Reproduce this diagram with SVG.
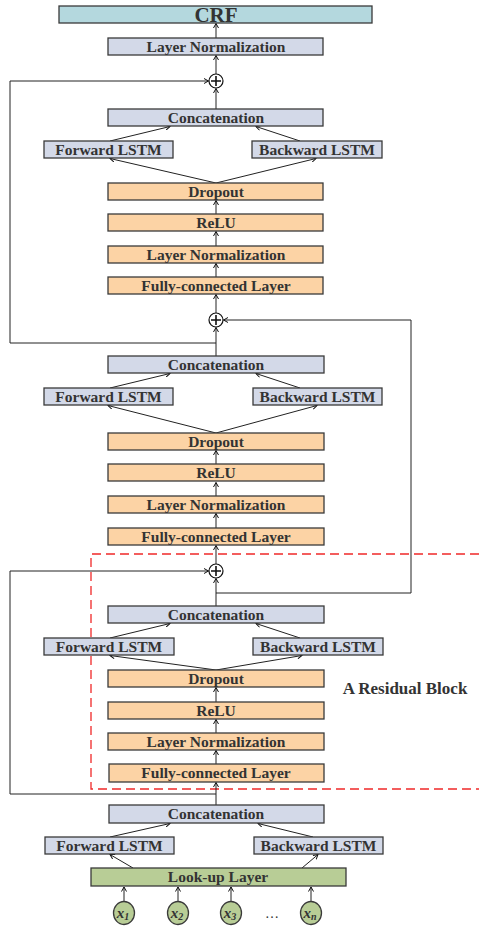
<svg xmlns="http://www.w3.org/2000/svg" width="479" height="927" viewBox="0 0 479 927">
<style>
.box{stroke:#3a3a3a;stroke-width:1.3}
.blue{fill:#d3d9e8}
.orange{fill:#fcd3a5}
.green{fill:#b8cd96}
.crf{fill:#b4d8de}
.t{font-family:"Liberation Serif","Times New Roman",serif;font-weight:bold;font-size:15.5px;fill:#333;text-anchor:middle}
.c{stroke:#222;stroke-width:1;fill:none;marker-end:url(#ah)}
.pc{fill:#fff;stroke:#111;stroke-width:1.2}
.pp{stroke:#111;stroke-width:1.6}
.xi{font-family:"Liberation Serif","Times New Roman",serif;font-weight:bold;font-style:italic;font-size:15px;fill:#333;text-anchor:middle}
</style>
<defs>
<marker id="ah" markerWidth="6" markerHeight="6" refX="5" refY="3" orient="auto" markerUnits="userSpaceOnUse">
<path d="M0.5,0.5 L5,3 L0.5,5.5" fill="none" stroke="#111" stroke-width="1"/>
</marker>
</defs>
<rect width="479" height="927" fill="#fff"/>

<g id="residual-block">
<path d="M479,554 H91 V789 H479" fill="none" stroke="#f02828" stroke-width="1.3" stroke-dasharray="9,5"/>
<text x="405" y="694" class="t" style="font-size:17px">A Residual Block</text>
</g>

<g id="connectors">
<line class="c" x1="216" y1="38" x2="216" y2="23.5"/>
<line class="c" x1="216" y1="74" x2="216" y2="55.5"/>
<line class="c" x1="216" y1="109" x2="216" y2="88.5"/>
<line class="c" x1="110" y1="141" x2="170" y2="126.5"/>
<line class="c" x1="300" y1="141" x2="256" y2="126.5"/>
<line class="c" x1="216" y1="183" x2="110" y2="158.5"/>
<line class="c" x1="216" y1="183" x2="316" y2="158.5"/>
<line class="c" x1="216" y1="214" x2="216" y2="200.5"/>
<line class="c" x1="216" y1="246" x2="216" y2="231.5"/>
<line class="c" x1="216" y1="277" x2="216" y2="263.5"/>
<line class="c" x1="216" y1="313" x2="216" y2="294.5"/>
<line class="c" x1="216" y1="356" x2="216" y2="327.5"/>
<polyline class="c" points="216,343 10,343 10,81 208.5,81"/>
<line class="c" x1="110" y1="388" x2="170" y2="373.5"/>
<line class="c" x1="300" y1="388" x2="256" y2="373.5"/>
<line class="c" x1="216" y1="433" x2="108" y2="405.5"/>
<line class="c" x1="216" y1="433" x2="317" y2="405.5"/>
<line class="c" x1="216" y1="464" x2="216" y2="450.5"/>
<line class="c" x1="216" y1="496" x2="216" y2="482.5"/>
<line class="c" x1="216" y1="528" x2="216" y2="513.5"/>
<line class="c" x1="216" y1="564" x2="216" y2="545.5"/>
<line class="c" x1="216" y1="606" x2="216" y2="578.5"/>
<polyline class="c" points="216,593 411,593 411,320 223.5,320"/>
<line class="c" x1="110" y1="638" x2="170" y2="623.5"/>
<line class="c" x1="300" y1="638" x2="256" y2="623.5"/>
<line class="c" x1="216" y1="670" x2="110" y2="655.5"/>
<line class="c" x1="216" y1="670" x2="302" y2="655.5"/>
<line class="c" x1="216" y1="702" x2="216" y2="687.5"/>
<line class="c" x1="216" y1="733" x2="216" y2="719.5"/>
<line class="c" x1="216" y1="764" x2="216" y2="750.5"/>
<line class="c" x1="216" y1="805" x2="216" y2="782.5"/>
<polyline class="c" points="216,794 10,794 10,571 208.5,571"/>
<line class="c" x1="110" y1="837" x2="170" y2="823.5"/>
<line class="c" x1="313" y1="837" x2="258" y2="823.5"/>
<line class="c" x1="133" y1="868" x2="110" y2="854.5"/>
<line class="c" x1="302" y1="868" x2="318" y2="854.5"/>
<line class="c" x1="124" y1="901" x2="124" y2="887"/>
<line class="c" x1="178" y1="901" x2="178" y2="887"/>
<line class="c" x1="231" y1="901" x2="231" y2="887"/>
<line class="c" x1="311" y1="901" x2="311" y2="887"/>
</g>

<g id="crf"><rect class="box crf" x="59" y="6" width="313" height="17"/><text class="t" x="216" y="22" style="font-size:21px">CRF</text></g>
<g id="ln-top"><rect class="box blue" x="108" y="38" width="215" height="17"/><text class="t" x="216" y="52">Layer Normalization</text></g>
<g id="add1"><circle class="pc" cx="216" cy="81" r="7"/><path class="pp" d="M211,81 H221 M216,76 V86"/></g>

<g id="concat1"><rect class="box blue" x="108" y="109" width="215" height="17"/><text class="t" x="216" y="123">Concatenation</text></g>
<g id="fwd1"><rect class="box blue" x="44" y="141" width="129" height="17"/><text class="t" x="108.5" y="155">Forward LSTM</text></g>
<g id="bwd1"><rect class="box blue" x="252" y="141" width="130" height="17"/><text class="t" x="317" y="155">Backward LSTM</text></g>
<g id="drop1"><rect class="box orange" x="108" y="183" width="215" height="17"/><text class="t" x="216" y="197">Dropout</text></g>
<g id="relu1"><rect class="box orange" x="108" y="214" width="215" height="17"/><text class="t" x="216" y="228">ReLU</text></g>
<g id="ln1"><rect class="box orange" x="108" y="246" width="215" height="17"/><text class="t" x="216" y="260">Layer Normalization</text></g>
<g id="fc1"><rect class="box orange" x="108" y="277" width="215" height="17"/><text class="t" x="216" y="291">Fully-connected Layer</text></g>
<g id="add2"><circle class="pc" cx="216" cy="320" r="7"/><path class="pp" d="M211,320 H221 M216,315 V325"/></g>

<g id="concat2"><rect class="box blue" x="108" y="356" width="216" height="17"/><text class="t" x="216" y="370">Concatenation</text></g>
<g id="fwd2"><rect class="box blue" x="44" y="388" width="129" height="17"/><text class="t" x="108.5" y="402">Forward LSTM</text></g>
<g id="bwd2"><rect class="box blue" x="253" y="388" width="129" height="17"/><text class="t" x="317.5" y="402">Backward LSTM</text></g>
<g id="drop2"><rect class="box orange" x="108" y="433" width="216" height="17"/><text class="t" x="216" y="447">Dropout</text></g>
<g id="relu2"><rect class="box orange" x="108" y="464" width="216" height="17"/><text class="t" x="216" y="478">ReLU</text></g>
<g id="ln2"><rect class="box orange" x="108" y="496" width="216" height="17"/><text class="t" x="216" y="510">Layer Normalization</text></g>
<g id="fc2"><rect class="box orange" x="108" y="528" width="216" height="17"/><text class="t" x="216" y="542">Fully-connected Layer</text></g>
<g id="add3"><circle class="pc" cx="216" cy="571" r="7"/><path class="pp" d="M211,571 H221 M216,566 V576"/></g>

<g id="concat3"><rect class="box blue" x="108" y="606" width="216" height="17"/><text class="t" x="216" y="620">Concatenation</text></g>
<g id="fwd3"><rect class="box blue" x="44" y="638" width="130" height="17"/><text class="t" x="109" y="652">Forward LSTM</text></g>
<g id="bwd3"><rect class="box blue" x="253" y="638" width="130" height="17"/><text class="t" x="318" y="652">Backward LSTM</text></g>
<g id="drop3"><rect class="box orange" x="108" y="670" width="216" height="17"/><text class="t" x="216" y="684">Dropout</text></g>
<g id="relu3"><rect class="box orange" x="108" y="702" width="216" height="17"/><text class="t" x="216" y="716">ReLU</text></g>
<g id="ln3"><rect class="box orange" x="108" y="733" width="216" height="17"/><text class="t" x="216" y="747">Layer Normalization</text></g>
<g id="fc3"><rect class="box orange" x="109" y="764" width="215" height="18"/><text class="t" x="216" y="778">Fully-connected Layer</text></g>

<g id="concat4"><rect class="box blue" x="109" y="805" width="215" height="18"/><text class="t" x="216" y="819">Concatenation</text></g>
<g id="fwd4"><rect class="box blue" x="45" y="837" width="129" height="17"/><text class="t" x="109.5" y="851">Forward LSTM</text></g>
<g id="bwd4"><rect class="box blue" x="254" y="837" width="129" height="17"/><text class="t" x="318.5" y="851">Backward LSTM</text></g>
<g id="lookup"><rect class="box green" x="91" y="868" width="255" height="18"/><text class="t" x="218" y="882">Look-up Layer</text></g>

<g id="x1"><ellipse class="box green" cx="124" cy="913" rx="10.5" ry="11.5"/><text class="xi" x="123" y="918">x<tspan dy="2" font-size="10">1</tspan></text></g>
<g id="x2"><ellipse class="box green" cx="178" cy="913" rx="10.5" ry="11.5"/><text class="xi" x="177" y="918">x<tspan dy="2" font-size="10">2</tspan></text></g>
<g id="x3"><ellipse class="box green" cx="231" cy="913" rx="10.5" ry="11.5"/><text class="xi" x="230" y="918">x<tspan dy="2" font-size="10">3</tspan></text></g>
<g id="dots"><text class="t" x="272" y="918" style="font-weight:normal;font-size:14px">…</text></g>
<g id="xn"><ellipse class="box green" cx="311" cy="913" rx="10.5" ry="11.5"/><text class="xi" x="310" y="918">x<tspan dy="2" font-size="10">n</tspan></text></g>
</svg>
